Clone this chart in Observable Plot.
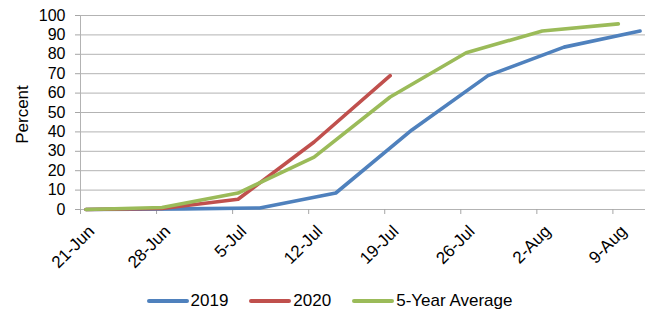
<!DOCTYPE html>
<html><head><meta charset="utf-8">
<script src="https://cdn.jsdelivr.net/npm/d3@7"></script>
<script src="https://cdn.jsdelivr.net/npm/@observablehq/plot@0.6"></script>
<style>
body{margin:0;background:#fff;font-family:"Liberation Sans",Arial,sans-serif;}
#chart{width:649px;height:312px;position:relative;overflow:hidden}
#chart svg{position:absolute;left:0;top:0}
.legend{position:absolute;top:291px;left:0;width:649px;display:flex;justify-content:center;align-items:center;font-size:17px;line-height:20px;color:#000;padding-left:10px;box-sizing:border-box}
.legend .item{display:flex;align-items:center;margin-right:21px}
.legend .item:last-child{margin-right:0}
.legend .sw{width:42px;height:4px;border-radius:2px;margin-right:2px}
g[aria-label="y-axis tick"] path, g[aria-label="x-axis tick"] path{stroke:#a6a6a6}
</style></head><body><div id="chart"></div><script>
const seriesNames = ["2019", "2020", "5-Year Average"];
const seriesColors = ["#4F81BD", "#C0504D", "#9BBB59"];
const dates2019 = ["2020-06-21","2020-06-30","2020-07-07","2020-07-14","2020-07-21","2020-07-28","2020-08-04","2020-08-11"];
const values2019 = [0, 0.3, 0.8, 8.5, 41, 69, 83.7, 92];
const dates2020 = ["2020-06-21","2020-06-28","2020-07-05","2020-07-12","2020-07-19"];
const values2020 = [0, 0.5, 5.3, 34.8, 69];
const datesAvg = ["2020-06-21","2020-06-28","2020-07-05","2020-07-12","2020-07-19","2020-07-26","2020-08-02","2020-08-09"];
const valuesAvg = [0, 1, 8.5, 27, 58, 80.8, 92, 95.7];
const tickDates = ["2020-06-21","2020-06-28","2020-07-05","2020-07-12","2020-07-19","2020-07-26","2020-08-02","2020-08-09"];
const tickLabels = ["21-Jun","28-Jun","5-Jul","12-Jul","19-Jul","26-Jul","2-Aug","9-Aug"];
const yTicks = [0,10,20,30,40,50,60,70,80,90,100];
const xDomain = ["2020-06-21","2020-08-12"];

const parse = d3.utcParse("%Y-%m-%d");
// Excel date axis: each point sits at the centre of its day slot
const mid = s => d3.utcHour.offset(parse(s), 12);
const rows = [];
[[dates2019, values2019], [dates2020, values2020], [datesAvg, valuesAvg]].forEach(([ds, vs], i) => {
  ds.forEach((d, j) => rows.push({series: seriesNames[i], date: mid(d), value: vs[j]}));
});
const ticks = tickDates.map(parse);
const labelOf = new Map(ticks.map((t, i) => [+t, tickLabels[i]]));

const plot = Plot.plot({
  width: 649, height: 282,
  marginLeft: 80, marginRight: 4, marginTop: 15, marginBottom: 73,
  style: {fontFamily: '"Liberation Sans", Arial, sans-serif', fontSize: "16px", color: "#000", background: "#fff"},
  x: {type: "utc", domain: xDomain.map(parse)},
  y: {domain: [0, 100]},
  color: {domain: seriesNames, range: seriesColors},
  marks: [
    Plot.ruleY(yTicks, {stroke: "#b3b3b3", strokeWidth: 1}),
    Plot.ruleX([parse(xDomain[0])], {stroke: "#b3b3b3", strokeWidth: 1}),
    Plot.axisY(yTicks, {tickSize: 5, tickPadding: 10, fontSize: 16, label: null}),
    Plot.axisX(ticks, {tickSize: 5, tickFormat: () => "", label: null}),
    Plot.axisX(ticks, {tickSize: 0, tickRotate: -45, tickPadding: 7, dx: 11, dy: 12, fontSize: 17, tickFormat: d => labelOf.get(+d), label: null}),
    Plot.text(["Percent"], {frameAnchor: "left", textAnchor: "middle", dx: -58, dy: 2, rotate: -90, fontSize: 17}),
    Plot.line(rows, {x: "date", y: "value", z: "series", stroke: "series", strokeWidth: 3.6, strokeLinejoin: "round", strokeLinecap: "round"})
  ]
});
const chart = document.getElementById("chart");
chart.appendChild(plot);
const leg = document.createElement("div");
leg.className = "legend";
seriesNames.forEach((n, i) => {
  const it = document.createElement("div"); it.className = "item";
  const sw = document.createElement("div"); sw.className = "sw"; sw.style.background = seriesColors[i];
  const tx = document.createElement("span"); tx.textContent = n;
  it.appendChild(sw); it.appendChild(tx); leg.appendChild(it);
});
chart.appendChild(leg);
</script></body></html>
